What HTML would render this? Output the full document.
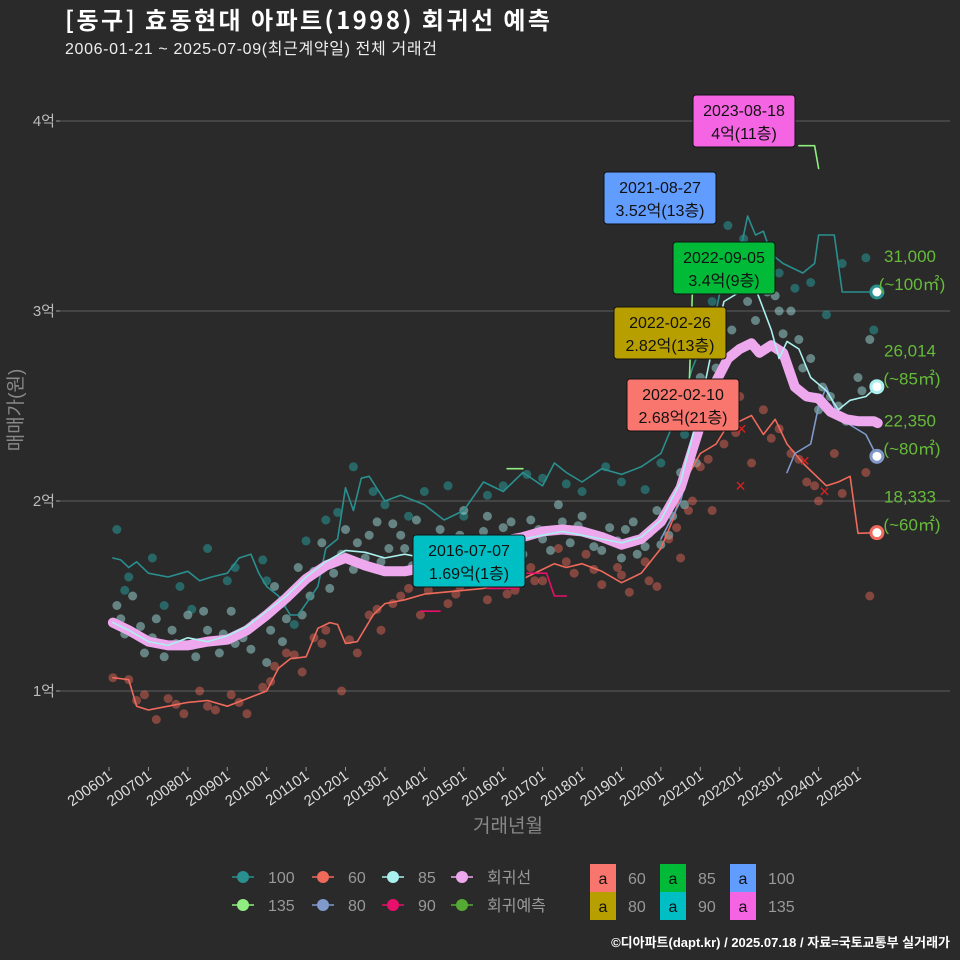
<!DOCTYPE html>
<html><head><meta charset="utf-8">
<style>
body{margin:0;background:#2a2a2a;}
svg{display:block;font-family:"Liberation Sans","Noto Sans CJK KR",sans-serif;}
</style></head>
<body>
<svg id="c" width="960" height="960" viewBox="0 0 960 960">
<rect width="960" height="960" fill="#2a2a2a"/>
<text x="65" y="29" fill="#fff" font-size="24" font-weight="bold" font-family="'Noto Sans CJK KR',sans-serif" textLength="485">[동구] 효동현대 아파트(1998) 회귀선 예측</text>
<text x="65" y="54" fill="#eee" font-size="16" textLength="372">2006-01-21 ~ 2025-07-09(최근계약일) 전체 거래건</text>
<g id="grid"></g>
<g id="plot"></g>
<text transform="translate(22,410) rotate(-90)" text-anchor="middle" fill="#888" font-size="19">매매가(원)</text>
<text x="508" y="832" text-anchor="middle" fill="#888" font-size="19">거래년월</text>
<g id="legend"></g>
<text x="950" y="947" text-anchor="end" fill="#fff" font-size="13" font-weight="bold">©디아파트(dapt.kr) / 2025.07.18 / 자료=국토교통부 실거래가</text>
</svg>
<script>
const yTicks=[10000,20000,30000,40000];
const yTickLabels=["1억","2억","3억","4억"];
const xTickYears=[2006,2007,2008,2009,2010,2011,2012,2013,2014,2015,2016,2017,2018,2019,2020,2021,2022,2023,2024,2025];
const s100=[[2006.1,17000],[2006.3,16900],[2006.5,16500],[2006.7,16800],[2007,16200],[2007.5,16000],[2008,16300],[2008.3,15800],[2008.6,16000],[2009,16200],[2009.3,17000],[2009.6,17200],[2009.8,16200],[2010,15500],[2010.3,15000],[2010.6,14000],[2010.8,14000],[2011,14600],[2011.3,15500],[2011.5,17500],[2011.8,18000],[2012,20700],[2012.2,19500],[2012.4,21200],[2012.6,21300],[2013,20000],[2013.4,20300],[2014,19800],[2014.5,19000],[2015,19500],[2015.5,21000],[2016,20500],[2016.5,21500],[2017,20800],[2017.3,22000],[2017.6,21500],[2018,21000],[2018.5,21700],[2019,21400],[2019.5,21800],[2020,22500],[2020.5,25000],[2020.8,27000],[2021,28000],[2021.3,29000],[2021.5,31000],[2021.8,32000],[2022,33000],[2022.2,35000],[2022.4,34000],[2022.6,34200],[2022.8,33000],[2023.1,32500],[2023.6,32000],[2023.9,32500],[2024,34000],[2024.4,34000],[2024.6,31000],[2025.48,31000]];
const s85=[[2006.1,13600],[2006.5,13200],[2007,12600],[2007.5,12400],[2008,12800],[2008.5,12600],[2009,12900],[2009.5,13400],[2010,14200],[2010.5,15000],[2011,16000],[2011.5,16800],[2012,17400],[2012.5,17300],[2013,17000],[2013.5,17200],[2014,17000],[2014.5,17300],[2015,17500],[2015.5,17700],[2016,17800],[2016.5,18000],[2017,18200],[2017.5,18400],[2018,18200],[2018.5,18000],[2019,17800],[2019.5,18100],[2020,19000],[2020.5,21000],[2021,25000],[2021.3,28000],[2021.6,30500],[2022,31000],[2022.4,31200],[2022.8,29000],[2023,27500],[2023.2,28400],[2023.5,28000],[2023.8,26500],[2024.2,25800],[2024.5,24800],[2024.8,25300],[2025.2,25500],[2025.48,26014]];
const s80=[[2020,18000],[2020.5,20000],[2021,24000],[2021.5,27000],[2022,28200],[2022.5,28200],null,[2023.2,21500],[2023.4,22500],[2023.8,23000],[2024,25000],[2024.2,26000],[2024.5,24500],[2024.8,24000],[2025.2,23500],[2025.48,22350]];
const s60=[[2006.1,10700],[2006.5,10600],[2006.7,9200],[2007,9000],[2007.5,9200],[2008,9400],[2008.5,9500],[2009,9200],[2009.5,9600],[2010,10000],[2010.3,11200],[2010.6,11700],[2011,11800],[2011.3,13300],[2011.6,13600],[2011.8,13500],[2012,12500],[2012.3,12600],[2012.7,14000],[2013,14600],[2013.5,14800],[2014,15100],[2014.5,15200],[2015,15300],[2015.5,15400],[2016,15600],[2016.5,15900],[2017,16400],[2017.3,16700],[2017.6,16500],[2018,16700],[2018.5,16300],[2019,15700],[2019.5,16200],[2020,17500],[2020.3,19000],[2020.6,21000],[2021,22500],[2021.4,23000],[2021.7,24000],[2022,24200],[2022.3,24500],[2022.6,23500],[2022.9,24300],[2023.2,23000],[2023.6,22000],[2023.9,21400],[2024.2,20800],[2024.5,21000],[2024.8,21300],[2025,18300],[2025.48,18333]];
const s90=[[2013.9,14200],[2014.4,14200],null,[2015.6,15400],[2016.4,15400],null,[2016.6,16200],[2017.1,16200],[2017.3,15000],[2017.6,15000]];
const s135=[[2016.1,21700],[2016.5,21700],null,[2020.7,25000],[2020.8,31000],[2020.9,31000],null,[2023.5,38700],[2023.9,38700],[2024.0,37500]];
const sReg=[[2006.1,13600],[2006.5,13200],[2007,12600],[2007.5,12400],[2008,12400],[2008.5,12600],[2009,12700],[2009.5,13200],[2010,14000],[2010.5,14900],[2011,15900],[2011.5,16600],[2012,17000],[2012.5,16600],[2013,16300],[2013.5,16300],[2014,16500],[2014.5,16900],[2015,17400],[2015.5,17800],[2016,17900],[2016.5,18100],[2017,18400],[2017.5,18500],[2018,18400],[2018.5,18100],[2019,17700],[2019.5,18000],[2020,18900],[2020.5,20700],[2021,24000],[2021.4,26300],[2021.7,27500],[2022,28000],[2022.3,28300],[2022.5,27800],[2022.8,28200],[2023.1,27800],[2023.4,26000],[2023.7,25500],[2024,25400],[2024.3,24700],[2024.7,24300],[2025,24200],[2025.4,24200],[2025.5,24100]];
const pts85=[[2006.2,14500],[2006.4,13000],[2006.6,15000],[2006.9,12000],[2007.2,13800],[2007.4,11800],[2007.7,12500],[2008,14000],[2008.2,11800],[2008.5,13200],[2008.8,12000],[2009.1,14200],[2009.4,12800],[2009.7,13600],[2010,11500],[2010.2,15500],[2010.5,13800],[2010.8,16500],[2011.1,15000],[2011.4,17800],[2011.7,16200],[2012,18500],[2012.3,17800],[2012.6,18200],[2012.9,16800],[2013.2,18800],[2013.5,17500],[2013.8,19000],[2014.1,16800],[2014.4,18500],[2014.7,17500],[2015,19500],[2015.3,18000],[2015.6,19200],[2016,18600],[2016.3,17500],[2016.7,19000],[2017,18000],[2017.4,19800],[2017.7,17800],[2018,19200],[2018.3,17600],[2018.7,18600],[2019,17000],[2019.3,18900],[2019.6,17600],[2019.9,19500],[2020.2,18200],[2020.5,21500],[2020.8,24000],[2021,26500],[2021.3,29500],[2021.6,31500],[2022,32000],[2022.4,29500],[2022.7,31000],[2023,30000],[2023.3,30000],[2023.5,28500],[2023.8,27500],[2024.1,26000],[2024.5,25000],[2025,26500],[2025.3,28500],
 [2006.3,13800],[2006.8,13400],[2007.1,12800],[2007.6,13200],[2008.1,12400],[2008.4,14200],[2008.9,13000],[2009.2,12500],[2009.6,12200],[2010.1,13200],[2010.4,12600],[2010.9,14000],[2011.2,16300],[2011.6,15400],[2011.9,17200],[2012.2,16400],[2012.5,17000],[2012.8,18900],[2013.1,17500],[2013.4,18200],[2013.7,16600],[2014.2,17800],[2014.6,16900],[2014.9,18200],[2015.2,17200],[2015.5,18400],[2015.8,16700],[2016.2,18900],[2016.5,17200],[2016.9,18500],[2017.2,17400],[2017.5,18900],[2017.9,18700],[2018.2,18300],[2018.5,17400],[2018.9,17900],[2019.1,18500],[2019.4,17200],[2019.7,18300],[2020,17700],[2020.3,19200],[2020.6,19800],[2020.9,22000],[2021.1,24500],[2021.4,27000],[2021.8,29000],[2022.2,30500],[2022.9,30800],[2023.1,28800],[2023.6,27000],[2024,24800],[2024.3,25500],[2024.7,24200],[2025.1,25800]];
const pts100=[[2006.2,18500],[2006.5,16000],[2007.1,17000],[2007.8,15500],[2008.5,17500],[2009.2,16500],[2010,15800],[2010.7,13500],[2011.5,19000],[2012.2,21800],[2013,19800],[2014,20500],[2015,19200],[2016,20800],[2017,21200],[2018,20500],[2019,21000],[2020,22000],[2021,28500],[2021.7,34500],[2022.4,33000],[2023,32000],[2023.8,31500],[2024.6,32500],[2025.2,32800],[2025.4,29000],
 [2006.4,15300],[2007.4,14500],[2008.1,14300],[2009,15800],[2009.9,16900],[2010.4,14600],[2011,17900],[2011.8,19400],[2012.7,20500],[2013.6,19200],[2014.6,20800],[2015.6,20300],[2016.6,21400],[2017.6,20900],[2018.6,21800],[2019.6,20600],[2020.6,23500],[2021.3,30500],[2022.1,33800],[2023.4,31200],[2024.2,29800]];
const pts60=[[2006.1,10700],[2006.5,10600],[2006.9,9800],[2007.2,8500],[2007.5,9600],[2007.9,8800],[2008.3,10000],[2008.7,9000],[2009.1,9800],[2009.5,8800],[2009.9,10200],[2010.2,11300],[2010.5,12000],[2010.9,11000],[2011.2,12800],[2011.5,13200],[2011.9,10000],[2012.3,12000],[2012.6,14000],[2012.9,13200],[2013.2,14600],[2013.6,15400],[2013.9,14000],[2014.3,15800],[2014.6,14600],[2014.9,15500],[2015.3,16000],[2015.6,14800],[2016,16100],[2016.3,15300],[2016.7,16500],[2017,15800],[2017.4,17500],[2017.8,16200],[2018.1,17200],[2018.5,15600],[2018.9,16500],[2019.2,15200],[2019.6,16800],[2019.9,15500],[2020.2,18000],[2020.5,17000],[2020.8,20000],[2021,21800],[2021.3,19500],[2021.6,23000],[2022,25500],[2022.3,22000],[2022.6,24800],[2023,23800],[2023.3,22500],[2023.7,21000],[2024,20000],[2024.4,22500],[2025.3,15000],[2025.2,21500],
 [2006.7,9500],[2007.7,9300],[2008.5,9200],[2009.3,9400],[2010.1,10500],[2010.7,11900],[2011.4,12500],[2012.1,12700],[2012.8,14300],[2013.4,15000],[2014.1,15300],[2014.8,15100],[2015.4,15700],[2016.1,15100],[2016.8,15800],[2017.6,16800],[2018.3,16400],[2019,16100],[2019.7,15800],[2020.4,18600],[2020.7,19500],[2021.2,22200],[2021.9,23600],[2022.8,23300],[2023.5,22200],[2023.9,20800],[2024.6,20400]];
const labels=[
 {t:2023.63,v:40000,d:"2023-08-18",p:"4억(11층)",c:"#f564e3",bx:693,by:95},
 {t:2021.65,v:35200,d:"2021-08-27",p:"3.52억(13층)",c:"#619cff",bx:604,by:172},
 {t:2022.68,v:34000,d:"2022-09-05",p:"3.4억(9층)",c:"#00ba38",bx:673,by:242},
 {t:2022.15,v:28200,d:"2022-02-26",p:"2.82억(13층)",c:"#b79f00",bx:614,by:307},
 {t:2022.11,v:26800,d:"2022-02-10",p:"2.68억(21층)",c:"#f8766d",bx:627,by:379},
 {t:2016.51,v:16900,d:"2016-07-07",p:"1.69억(1층)",c:"#00bfc4",bx:413,by:535}];
const endVals=[31000,26014,22350,18333];
const endText=["31,000","26,014","22,350","18,333"];
const endArea=["(~100㎡)","(~85㎡)","(~80㎡)","(~60㎡)"];
const endColors=["#2a8f8f","#aaf0ee","#8098c8","#f06a5c"];
const crosses=[[2022.05,23800],[2022.02,20800],[2023.65,22100],[2024.15,20500]];

const X=t=>109+(t-2006)*39.42;
const Y=v=>691-(v-10000)*0.019;
const NS="http://www.w3.org/2000/svg";
function mk(tag,attrs,parent){const e=document.createElementNS(NS,tag);for(const k in attrs)e.setAttribute(k,attrs[k]);parent.appendChild(e);return e;}
const grid=document.getElementById('grid'),plot=document.getElementById('plot'),leg=document.getElementById('legend');
yTicks.forEach((v,i)=>{
 let l=mk('line',{x1:60,x2:950,y1:Y(v),y2:Y(v),stroke:'#555','stroke-width':1.2},grid);
 
 
 let tk=mk('line',{x1:56,x2:60,y1:Y(v),y2:Y(v),stroke:'#999'},grid);
 
 
 let t=mk('text',{x:55,y:Y(v)+5,'text-anchor':'end',fill:'#bbb','font-size':15},grid);t.textContent=yTickLabels[i];
 
 
});
xTickYears.forEach(yr=>{
 const x=X(yr);
 let tk=mk('line',{x1:x,x2:x,y1:767,y2:771,stroke:'#999'},grid);
 
 
 let t=mk('text',{transform:`translate(${x+4},778) rotate(-35)`,'text-anchor':'end',fill:'#ddd','font-size':15},grid);
 t.textContent=yr+"01";
 
 
});
function pathOf(arr){let d='',m=true;arr.forEach(p=>{if(!p){m=true;return;}d+=(m?'M':'L')+X(p[0]).toFixed(1)+','+Y(p[1]).toFixed(1);m=false;});return d;}
function dots(arr,col,op,name){arr.forEach(p=>{let c=mk('circle',{cx:X(p[0]),cy:Y(p[1]),r:4.5,fill:col,'fill-opacity':op},plot);
 
 });}
dots(pts100,'#2a8f8f',0.6,'point-100');
dots(pts85,'#aaf0ee',0.45,'point-85');
dots(pts60,'#f06a5c',0.45,'point-60');
function line(arr,col,w,name){let p=mk('path',{d:pathOf(arr),stroke:col,'stroke-width':w,fill:'none','stroke-linejoin':'round','stroke-linecap':'round'},plot);
 
 }
line(s100,'#2a8f8f',1.6,'line-100');
line(s60,'#f06a5c',1.6,'line-60');
line(s90,'#e8106a',1.6,'line-90');
line(s135,'#90ee80',1.6,'line-135');
line(s80,'#7f9acb',1.6,'line-80');
line(sReg,'#eea8ee',10,'regression-line');
line(s85,'#aaf0ee',1.6,'line-85');
crosses.forEach(p=>{let t=mk('text',{x:X(p[0]),y:Y(p[1])+6,'text-anchor':'middle',fill:'#e02020','font-size':18},plot);t.textContent='×';
 
 });
labels.forEach(L=>{
 const g=mk('g',{},plot);
 
 
 const w=L.p.length>8?112:102;
 mk('rect',{x:L.bx,y:L.by,width:w,height:52,rx:3,fill:L.c,stroke:'#111','stroke-width':1},g);
 let a=mk('text',{x:L.bx+w/2,y:L.by+21,'text-anchor':'middle',fill:'#111','font-size':16},g);a.textContent=L.d;
 let b=mk('text',{x:L.bx+w/2,y:L.by+44,'text-anchor':'middle',fill:'#111','font-size':16},g);b.textContent=L.p;
});
endVals.forEach((v,i)=>{
 const x=X(2025.48),y=Y(v);
 let c=mk('circle',{cx:x,cy:y,r:6,fill:'#fff',stroke:endColors[i],'stroke-width':3},plot);
 
 
 let t1=mk('text',{x:910,y:y-30,'text-anchor':'middle',fill:'#66bb3a','font-size':17},plot);t1.textContent=endText[i];
 
 
 let t2=mk('text',{x:912,y:y-2,'text-anchor':'middle',fill:'#66bb3a','font-size':17},plot);t2.textContent=endArea[i];
 
 
});
const legItems=[["100","#2a8f8f",243,877],["60","#f06a5c",323,877],["85","#aaf0ee",393,877],["회귀선","#eea8ee",462,877],["135","#90ee80",243,905],["80","#7f9acb",323,905],["90","#e8106a",393,905],["회귀예측","#55aa33",462,905]];
legItems.forEach(it=>{
 const g=mk('g',{},leg);
 
 
 mk('line',{x1:it[2]-11,x2:it[2]+11,y1:it[3],y2:it[3],stroke:it[1],'stroke-width':1.5},g);
 mk('circle',{cx:it[2],cy:it[3],r:6,fill:it[1]},g);
 let t=mk('text',{x:it[2]+25,y:it[3]+6,fill:'#999','font-size':16},g);t.textContent=it[0];
});
const boxItems=[["60","#f8766d",590,864],["85","#00ba38",660,864],["100","#619cff",730,864],["80","#b79f00",590,892],["90","#00bfc4",660,892],["135","#f564e3",730,892]];
boxItems.forEach(it=>{
 const g=mk('g',{},leg);
 
 
 mk('rect',{x:it[2],y:it[3],width:26,height:28,fill:it[1]},g);
 let a=mk('text',{x:it[2]+13,y:it[3]+20,'text-anchor':'middle',fill:'#111','font-size':16},g);a.textContent='a';
 let t=mk('text',{x:it[2]+38,y:it[3]+20,fill:'#999','font-size':16},g);t.textContent=it[0];
});
</script>
</body></html>
